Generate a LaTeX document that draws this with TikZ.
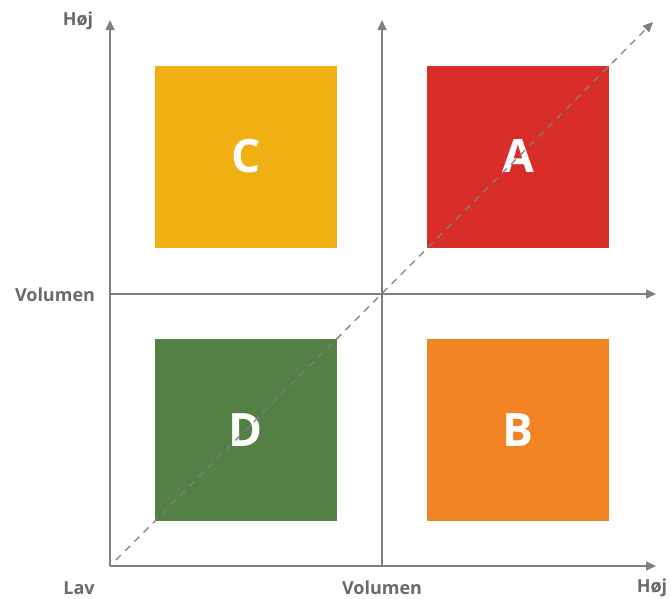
\documentclass[tikz,border=0pt]{standalone}
\usepackage{fontspec}
\setmainfont{Open Sans}
\usetikzlibrary{arrows.meta, positioning}
\definecolor{qyellow}{HTML}{F0B013}
\definecolor{qred}{HTML}{D92D27}
\definecolor{qgreen}{HTML}{548046}
\definecolor{qorange}{HTML}{F28322}
\definecolor{qaxis}{HTML}{7F7F7F}
\definecolor{qtext}{HTML}{6A6A6A}

\begin{document}
\begin{tikzpicture}[
  x=1pt, y=-1pt,
  quad/.style={rectangle, minimum size=182pt, inner sep=0pt, text=white, font=\bfseries\fontsize{46}{46}\selectfont},
  axislabel/.style={inner sep=0pt, text=qtext, font=\bfseries\fontsize{18}{18}\selectfont},
  axis/.style={draw=qaxis, line width=1.5pt, -{Triangle[length=10pt, width=9pt]}},
]
\useasboundingbox (0,0) rectangle (671,598);

% axes
\coordinate (origin) at (110,566);
\coordinate (ytop) at (110,20);
\coordinate (xend) at (656,566);
\coordinate (mbot) at (382,566);
\coordinate (mtop) at (382,20);
\coordinate (mleft) at (110,294);
\coordinate (mright) at (656,294);

\draw[axis] (origin) -- (ytop);
\draw[axis] (origin) -- (xend);
\draw[axis] (mbot) -- (mtop);
\draw[axis] (mleft) -- (mright);

% quadrants
\node[quad, fill=qyellow] (qc) at (246,156.5) {C};
\node[quad, fill=qred] (qa) at (518,156.5) {A};
\node[quad, fill=qgreen] (qd) at (246,430) {D};
\node[quad, fill=qorange] (qb) at (518,430) {B};

% labels
\node[axislabel] (hojy) at (78,21) {Høj};
\node[axislabel] (voly) at (55,295) {Volumen};
\node[axislabel] (lav) at (79,588) {Lav};
\node[axislabel] (volx) at (382,588) {Volumen};
\node[axislabel] (hojx) at (652,588) {Høj};

% diagonal
\coordinate (dstart) at (116,560);
\coordinate (dend) at (653,22);
\draw[qaxis, line width=1.3pt, dash pattern=on 7pt off 6pt, -{Triangle[length=10pt, width=9pt]}] (dstart) -- (dend);

\end{tikzpicture}
\end{document}
